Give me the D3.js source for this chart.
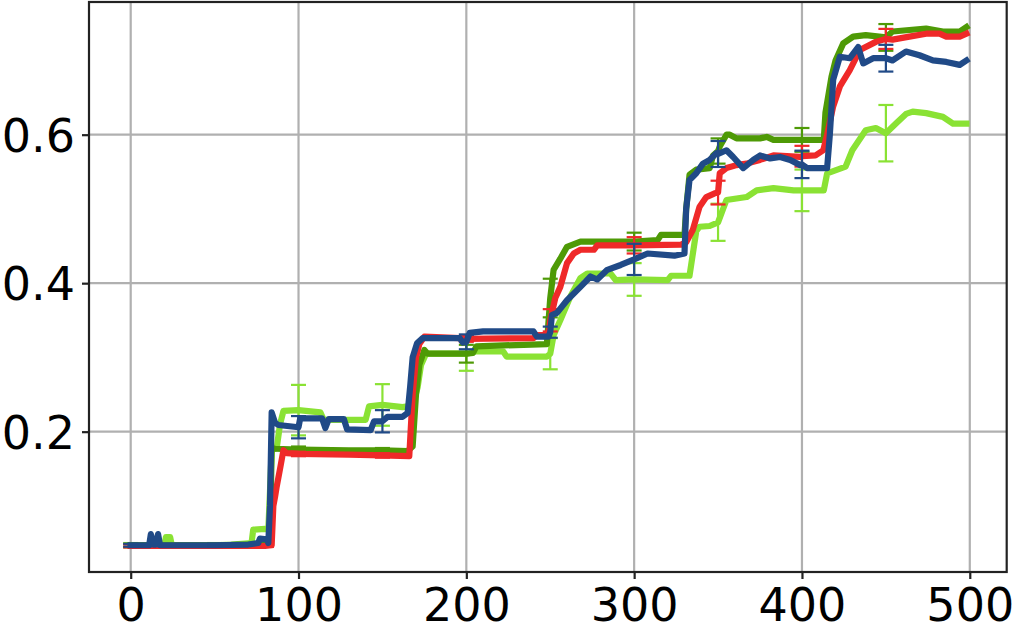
<!DOCTYPE html>
<html>
<head>
<meta charset="utf-8">
<script src="https://cdn.jsdelivr.net/npm/d3@7"></script>
<style>
  html, body { margin: 0; padding: 0; background: #fff; }
  svg { display: block; font-family: "DejaVu Sans", sans-serif; }
</style>
</head>
<body>
<svg id="chart" width="1015" height="633"></svg>
<script>
// ---- data ----
const xTicks = [0, 100, 200, 300, 400, 500];
const yTicks = [0.2, 0.4, 0.6];
const yTickLabels = ["0.2", "0.4", "0.6"];

const seriesNames = ["lightGreen", "darkGreen", "red", "blue"];
const seriesColors = ["#8ae234", "#4e9a06", "#ef2929", "#204a87"];

const lightGreen = [
  [0,0.047],[10,0.047],[20,0.047],[21,0.058],[23.5,0.058],[24.5,0.047],[40,0.047],[50,0.047],[60,0.048],
  [72,0.050],[73,0.068],[80,0.069],[82,0.068],[83,0.12],[84,0.175],[87,0.178],[89,0.21],[91,0.228],
  [100,0.229],[113,0.226],[115,0.216],[140,0.216],[142,0.234],[150,0.236],[162,0.233],[168,0.235],
  [171,0.26],[173,0.29],[176,0.305],[200,0.305],[202,0.306],[205,0.308],[222,0.308],[224,0.301],
  [248,0.301],[250,0.305],[252,0.33],[256,0.35],[262,0.382],[268,0.407],[272,0.413],[286,0.413],
  [289,0.404],[300,0.405],[320,0.404],[322,0.41],[333,0.41],[335,0.44],[337,0.47],[339,0.476],
  [345,0.477],[350,0.482],[355,0.512],[361,0.514],[367,0.516],[373,0.525],[383,0.528],[395,0.525],
  [400,0.525],[413,0.525],[415,0.548],[426,0.557],[430,0.579],[438,0.606],[444,0.609],[450,0.602],
  [456,0.615],[462,0.628],[466,0.631],[474,0.629],[484,0.624],[490,0.615],[498,0.615]
];
const darkGreen = [
  [0,0.047],[20,0.047],[50,0.047],[80,0.048],[83,0.05],[84,0.178],[86,0.177],[100,0.176],[130,0.175],
  [150,0.175],[165,0.174],[168,0.18],[170,0.25],[172,0.29],[175,0.31],[177,0.305],[200,0.305],
  [204,0.306],[206,0.315],[248,0.318],[250,0.38],[252,0.418],[256,0.433],[260,0.449],[268,0.456],
  [300,0.456],[314,0.458],[316,0.465],[330,0.465],[331,0.50],[333,0.546],[337,0.553],[345,0.555],
  [347,0.572],[350,0.578],[351,0.584],[355,0.6],[357,0.6],[361,0.595],[375,0.595],[379,0.597],
  [383,0.593],[400,0.593],[413,0.593],[414,0.63],[417.6,0.678],[420,0.70],[424.6,0.723],[430.5,0.732],
  [438,0.734],[450,0.731],[454,0.739],[474,0.743],[484,0.739],[494,0.739],[498,0.745]
];
const red = [
  [0,0.046],[50,0.046],[80,0.046],[84,0.047],[85,0.10],[86,0.112],[87,0.126],[89,0.15],[91,0.175],
  [93,0.171],[100,0.170],[130,0.169],[150,0.168],[166,0.167],[168,0.25],[170,0.30],[172,0.318],
  [175,0.328],[196,0.326],[200,0.325],[240,0.326],[242,0.330],[249,0.330],[250,0.35],[253,0.38],
  [256,0.395],[260,0.427],[264,0.44],[268,0.445],[276,0.445],[278,0.451],[300,0.451],[328,0.452],
  [331,0.455],[335,0.472],[339,0.503],[343,0.516],[348,0.521],[350,0.522],[351,0.548],[355,0.555],
  [361,0.559],[367,0.561],[375,0.566],[383,0.572],[399,0.570],[400,0.571],[408,0.572],[412.7,0.579],
  [415,0.60],[418.6,0.638],[422.6,0.665],[428.5,0.687],[434.5,0.714],[444,0.725],[450,0.729],
  [454,0.728],[464,0.732],[474,0.736],[482,0.736],[486,0.732],[494,0.732],[498,0.736]
];
const blue = [
  [0,0.047],[8,0.047],[11,0.047],[12,0.062],[13.5,0.048],[15,0.048],[16.3,0.062],[17.5,0.047],
  [30,0.047],[50,0.047],[70,0.048],[76,0.050],[77,0.056],[81,0.055],[82,0.05],[83,0.10],[84,0.226],
  [86,0.212],[88,0.209],[100,0.206],[101,0.218],[114,0.218],[116,0.205],[118,0.217],[127,0.217],
  [129,0.203],[143,0.202],[145,0.214],[150,0.214],[153,0.22],[162,0.22],[165,0.225],[166.5,0.26],
  [168,0.30],[170.6,0.319],[174,0.326],[196,0.326],[198,0.320],[200,0.321],[202,0.333],[210,0.335],
  [240,0.335],[242,0.328],[249,0.328],[250,0.334],[251,0.357],[254,0.36],[260,0.377],[268,0.395],
  [274,0.409],[278,0.405],[284,0.418],[292,0.4245],[300,0.432],[308,0.44],[324,0.437],[330,0.44],
  [331,0.50],[333,0.539],[337,0.548],[341,0.561],[345,0.566],[349,0.575],[350,0.574],[355,0.579],
  [359,0.570],[365,0.555],[371,0.566],[375,0.572],[381,0.568],[387,0.570],[393,0.566],[399,0.559],
  [400,0.56],[403,0.555],[415,0.555],[416.6,0.60],[418.6,0.674],[422.6,0.705],[428.5,0.703],
  [433.5,0.718],[436.5,0.696],[442.4,0.703],[450,0.703],[454,0.70],[462,0.712],[470,0.707],
  [478,0.70],[486,0.698],[494,0.694],[498,0.70]
];

// error bars: half-widths at errX
const errX = [0, 50, 100, 150, 200, 250, 300, 350, 400, 450];
const lightGreenErr = [0.003, 0.003, 0.034, 0.028, 0.023, 0.021, 0.022, 0.025, 0.028, 0.038];
const darkGreenErr  = [0.002, 0.002, 0.004, 0.003, 0.012, 0.026, 0.012, 0.017, 0.016, 0.018];
const redErr        = [0.002, 0.002, 0.003, 0.003, 0.004, 0.015, 0.011, 0.016, 0.014, 0.0135];
const blueErr       = [0.002, 0.002, 0.015, 0.015, 0.010, 0.0075, 0.021, 0.0175, 0.0185, 0.018];

const allSeries = [lightGreen, darkGreen, red, blue];
const allErrs = [lightGreenErr, darkGreenErr, redErr, blueErr];

// ---- drawing ----
const svg = d3.select("#chart");
const L = 89, R = 1006.7, T = 2, B = 572;

const x = d3.scaleLinear().domain([-24.85, 522]).range([L, R]);
const y = d3.scaleLinear().domain([0.011, 0.7787]).range([B, T]);

// grid
const grid = svg.append("g");
grid.selectAll("line.vx").data(xTicks).join("line")
  .attr("x1", d => x(d)).attr("x2", d => x(d)).attr("y1", T).attr("y2", B)
  .attr("stroke", "#b0b0b0").attr("stroke-width", 2.2);
grid.selectAll("line.hy").data(yTicks).join("line")
  .attr("y1", d => y(d)).attr("y2", d => y(d)).attr("x1", L).attr("x2", R)
  .attr("stroke", "#b0b0b0").attr("stroke-width", 2.2);

// series
const line = d3.line().x(d => x(d[0])).y(d => y(d[1]));
allSeries.forEach((s, i) => {
  const g = svg.append("g");
  const col = seriesColors[i];
  const errs = allErrs[i];
  const eb = errX.map((ex, k) => {
    const p = s.find(d => d[0] === ex);
    return { x: ex, c: p[1], e: errs[k] };
  });
  g.append("path").datum(s).attr("d", line)
    .attr("fill", "none").attr("stroke", col).attr("stroke-width", 6.2)
    .attr("stroke-linejoin", "round").attr("stroke-linecap", "square");
  const ebg = g.append("g").attr("stroke", col).attr("stroke-width", 2.2);
  ebg.selectAll("line.v").data(eb).join("line")
    .attr("x1", d => x(d.x)).attr("x2", d => x(d.x))
    .attr("y1", d => y(d.c - d.e)).attr("y2", d => y(d.c + d.e));
  ebg.selectAll("line.ct").data(eb).join("line")
    .attr("x1", d => x(d.x) - 7.5).attr("x2", d => x(d.x) + 7.5)
    .attr("y1", d => y(d.c + d.e)).attr("y2", d => y(d.c + d.e));
  ebg.selectAll("line.cb").data(eb).join("line")
    .attr("x1", d => x(d.x) - 7.5).attr("x2", d => x(d.x) + 7.5)
    .attr("y1", d => y(d.c - d.e)).attr("y2", d => y(d.c - d.e));
});

// axes
const xAxis = d3.axisBottom(x).tickValues(xTicks).tickSize(7).tickPadding(8).tickFormat(d3.format("d"));
const yAxis = d3.axisLeft(y).tickValues(yTicks).tickSize(7).tickPadding(7).tickFormat((d, i) => yTickLabels[i]);

const gx = svg.append("g").attr("transform", `translate(0,${B})`).call(xAxis);
const gy = svg.append("g").attr("transform", `translate(${L},0)`).call(yAxis);
[gx, gy].forEach(g => {
  g.select(".domain").remove();
  g.selectAll(".tick line").attr("stroke", "#222").attr("stroke-width", 2.2);
  g.selectAll(".tick text").attr("fill", "#000").attr("font-size", 46)
    .attr("font-family", "DejaVu Sans, sans-serif");
});
gx.selectAll(".tick text").attr("dy", null).attr("y", 48.5);
gy.selectAll(".tick text").attr("dy", null).attr("y", 16.8).attr("x", -14);

// frame
svg.append("rect").attr("x", L).attr("y", T).attr("width", R - L).attr("height", B - T)
  .attr("fill", "none").attr("stroke", "#222").attr("stroke-width", 2.2);
</script>
</body>
</html>
